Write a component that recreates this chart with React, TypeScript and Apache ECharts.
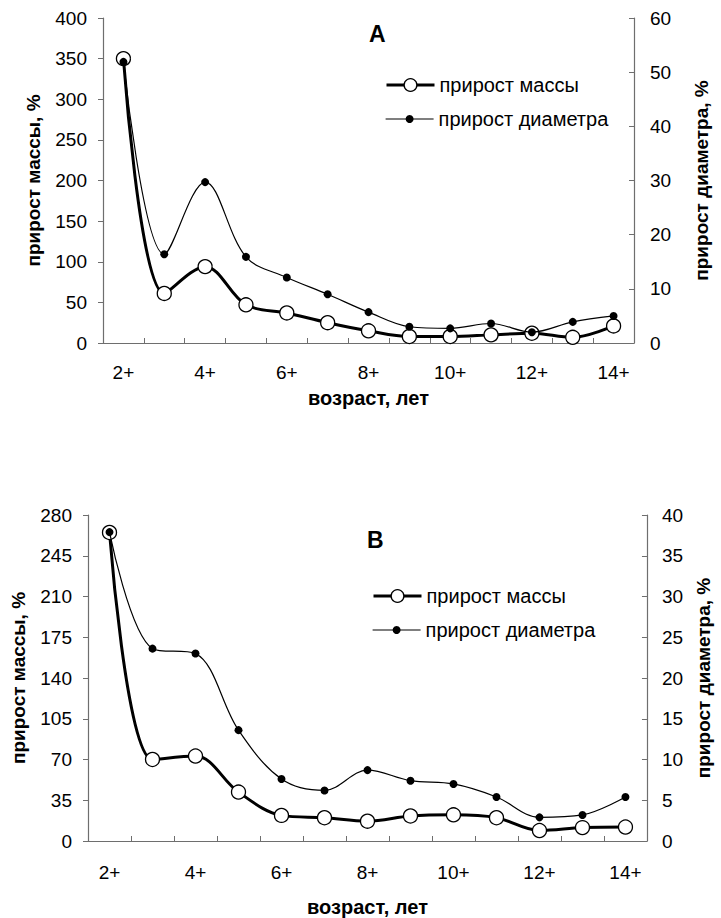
import React, { useEffect, useRef } from "react";
import * as echarts from "echarts";

// Age classes (x axis), labelled on every other class
const AGES = ["2+", "3+", "4+", "5+", "6+", "7+", "8+", "9+", "10+", "11+", "12+", "13+", "14+"];

// Panel A: mass increment (%) and diameter increment (%)
const MASS_A = [350, 61, 94, 47, 37, 25, 15, 8, 8, 10, 12, 7, 21];
const DIAM_A = [51.9, 16.4, 29.7, 15.9, 12.1, 9.0, 5.7, 3.0, 2.7, 3.6, 2.0, 3.9, 5.0];

// Panel B: mass increment (%) and diameter increment (%)
const MASS_B = [265, 70, 73, 42, 22, 20, 17, 21.5, 22.5, 20, 9, 11.5, 12];
const DIAM_B = [37.9, 23.6, 23.0, 13.6, 7.6, 6.2, 8.7, 7.4, 7.0, 5.4, 2.9, 3.2, 5.4];

// Axis ranges [max, interval] for each panel
const LEFT_RANGE_A = [400, 50];
const RIGHT_RANGE_A = [60, 10];
const LEFT_RANGE_B = [280, 35];
const RIGHT_RANGE_B = [40, 5];

const PANEL_TITLES = ["A", "B"];
const MASS_NAME = "прирост массы";
const DIAM_NAME = "прирост диаметра";
const Y_LEFT_NAME = "прирост массы, %";
const Y_RIGHT_NAME = "прирост диаметра, %";
const X_NAME = "возраст, лет";

const FONT = "'Liberation Sans', Arial, Helvetica, sans-serif";
const AXIS_GREY = "#6e6e6e";

function xAxisFor(gridIndex: number, labelMargin: number, nameGap: number) {
  return {
    type: "category",
    gridIndex,
    data: AGES,
    boundaryGap: true,
    name: X_NAME,
    nameLocation: "middle",
    nameGap,
    nameTextStyle: { fontFamily: FONT, fontSize: 20, fontWeight: "bold", color: "#000" },
    axisLine: { lineStyle: { color: AXIS_GREY, width: 1.2 } },
    axisTick: { show: true, inside: true, length: 5, interval: 0, lineStyle: { color: AXIS_GREY } },
    axisLabel: { interval: 1, margin: labelMargin, fontFamily: FONT, fontSize: 19, color: "#000" },
    splitLine: { show: false },
  };
}

function yAxisFor(
  gridIndex: number,
  range: number[],
  position: "left" | "right",
  name: string,
  nameGap: number,
  labelMargin: number
) {
  return {
    type: "value",
    gridIndex,
    position,
    min: 0,
    max: range[0],
    interval: range[1],
    name,
    nameLocation: "middle",
    nameRotate: 90,
    nameGap,
    nameTextStyle: { fontFamily: FONT, fontSize: 19, fontWeight: "bold", color: "#000" },
    axisLine: { show: true, lineStyle: { color: AXIS_GREY, width: 1.2 } },
    axisTick: { show: true, inside: position === "right", length: 5, lineStyle: { color: AXIS_GREY } },
    axisLabel: { margin: labelMargin, fontFamily: FONT, fontSize: 19, color: "#000" },
    splitLine: { show: false },
  };
}

function massSeries(data: number[], xi: number, yi: number) {
  return {
    name: MASS_NAME,
    type: "line",
    xAxisIndex: xi,
    yAxisIndex: yi,
    data,
    smooth: 0.35,
    symbol: "circle",
    symbolSize: 14,
    showAllSymbol: true,
    lineStyle: { color: "#000", width: 3 },
    itemStyle: { color: "#fff", borderColor: "#000", borderWidth: 1.3 },
    z: 2,
  };
}

function diamSeries(data: number[], xi: number, yi: number) {
  return {
    name: DIAM_NAME,
    type: "line",
    xAxisIndex: xi,
    yAxisIndex: yi,
    data,
    smooth: 0.35,
    symbol: "circle",
    symbolSize: 8,
    showAllSymbol: true,
    lineStyle: { color: "#000", width: 1.2 },
    itemStyle: { color: "#000", borderColor: "#000", borderWidth: 0 },
    z: 3,
  };
}

function legendItem(
  name: string,
  left: number,
  top: number,
  itemHeight: number,
  lineWidth: number,
  fill: string,
  borderWidth: number
) {
  return {
    data: [name],
    left,
    top,
    orient: "horizontal",
    padding: 0,
    itemWidth: 48,
    itemHeight,
    selectedMode: false,
    lineStyle: { color: "#000", width: lineWidth },
    itemStyle: { color: fill, borderColor: "#000", borderWidth },
    textStyle: { fontFamily: FONT, fontSize: 20, color: "#000" },
  };
}

export default function App() {
  const ref = useRef<HTMLDivElement>(null);

  useEffect(() => {
    if (!ref.current) return;
    const chart = echarts.init(ref.current, undefined, { renderer: "svg" });

    const option = {
      animation: false,
      backgroundColor: "#fff",
      title: [
        {
          text: PANEL_TITLES[0],
          left: 369,
          top: 22,
          padding: 0,
          textStyle: { fontFamily: FONT, fontSize: 23, fontWeight: "bold", color: "#000" },
        },
        {
          text: PANEL_TITLES[1],
          left: 367,
          top: 528,
          padding: 0,
          textStyle: { fontFamily: FONT, fontSize: 23, fontWeight: "bold", color: "#000" },
        },
      ],
      legend: [
        legendItem(MASS_NAME, 385, 75, 16, 3, "#fff", 1.3),
        legendItem(DIAM_NAME, 385, 109, 10, 1.2, "#000", 0),
        legendItem(MASS_NAME, 372, 586, 16, 3, "#fff", 1.3),
        legendItem(DIAM_NAME, 372, 620, 10, 1.2, "#000", 0),
      ],
      grid: [
        { left: 103, top: 18, width: 531, height: 325, containLabel: false },
        { left: 88, top: 515, width: 565, height: 326, containLabel: false },
      ],
      xAxis: [xAxisFor(0, 20, 45), xAxisFor(1, 22, 56)],
      yAxis: [
        yAxisFor(0, LEFT_RANGE_A, "left", Y_LEFT_NAME, 60, 16),
        yAxisFor(0, RIGHT_RANGE_A, "right", Y_RIGHT_NAME, 58, 16),
        yAxisFor(1, LEFT_RANGE_B, "left", Y_LEFT_NAME, 60, 16),
        yAxisFor(1, RIGHT_RANGE_B, "right", Y_RIGHT_NAME, 46, 15),
      ],
      series: [
        massSeries(MASS_A, 0, 0),
        diamSeries(DIAM_A, 0, 1),
        massSeries(MASS_B, 1, 2),
        diamSeries(DIAM_B, 1, 3),
      ],
    };

    chart.setOption(option as any);
    return () => chart.dispose();
  }, []);

  return (
    <div
      ref={ref}
      style={{ position: "absolute", left: 0, top: 0, width: 721, height: 918, background: "#fff" }}
    />
  );
}
